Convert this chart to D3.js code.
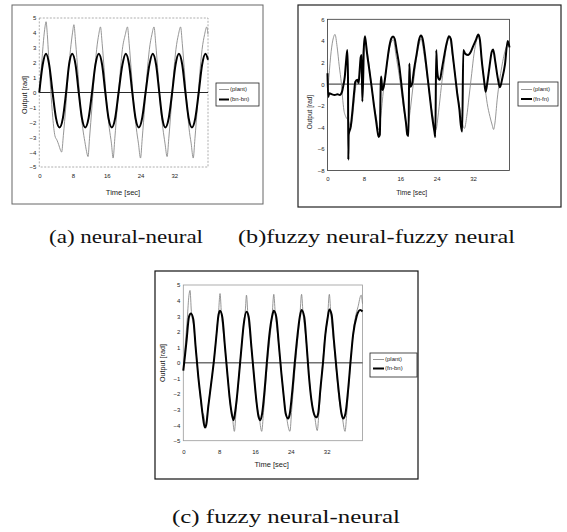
<!DOCTYPE html>
<html><head><meta charset="utf-8">
<script src="https://cdn.jsdelivr.net/npm/d3@7"></script>
<style>body{margin:0;background:#fff}</style>
</head><body>
<svg id="chart" width="567" height="532"></svg>
<script>
// ---------------- data ----------------
const timeTicks = [0, 8, 16, 24, 32];
const yTicksA = [5, 4, 3, 2, 1, 0, -1, -2, -3, -4, -5];
const yTicksB = [6, 4, 2, 0, -2, -4, -6, -8];
const yTicksC = [5, 4, 3, 2, 1, 0, -1, -2, -3, -4, -5];
const legendA = ["(plant)", "(bn-bn)"];
const legendB = ["(plant)", "(fn-fn)"];
const legendC = ["(plant)", "(fn-bn)"];
const captions = ["(a) neural-neural", "(b)fuzzy neural-fuzzy neural", "(c) fuzzy neural-neural"];
const axisTitles = ["Output [rad]", "Time [sec]"];

// (a) neural-neural : [time, output]
const plantA = [[0,0],[0.5,1.7],[1.0,3.5],[1.35,4.4],[1.6,4.75],[1.9,3.9],[2.2,2.5],[2.7,0.2],[3.2,-1.7],[3.7,-2.9],[4.2,-3.2],[4.6,-3.5],[5.0,-3.85],[5.3,-4.0],[5.7,-2.9],[6.3,-0.9],[6.8,1.1],[7.4,2.9],[7.9,4.05],[8.2,4.55],[8.6,3.4],[9.2,1.2],[9.7,-0.8],[10.3,-2.4],[10.8,-3.3],[11.2,-3.95],[11.55,-4.3],[11.9,-3.1],[12.5,-0.9],[13.0,1.0],[13.6,2.9],[14.1,3.9],[14.5,4.4],[14.9,3.3],[15.5,1.1],[16.0,-0.8],[16.6,-2.4],[17.1,-3.4],[17.5,-4.4],[17.9,-3.1],[18.5,-0.9],[19.1,1.1],[19.7,2.9],[20.4,3.9],[20.9,4.4],[21.3,3.3],[21.9,1.1],[22.4,-0.8],[23.0,-2.4],[23.5,-3.4],[24.0,-4.4],[24.4,-3.1],[25.0,-0.9],[25.5,1.1],[26.1,2.9],[26.7,3.9],[27.2,4.4],[27.6,3.3],[28.2,1.1],[28.7,-0.8],[29.3,-2.4],[29.8,-3.4],[30.3,-4.3],[30.7,-3.1],[31.3,-0.9],[31.8,1.1],[32.4,2.9],[33.0,3.9],[33.5,4.4],[33.9,3.3],[34.5,1.1],[35.0,-0.8],[35.5,-2.4],[36.0,-3.4],[36.5,-4.4],[36.9,-3.1],[37.5,-0.9],[38.0,1.1],[38.6,2.9],[39.2,3.9],[39.7,4.4],[40,3.9]];
const bnbnA = [[0,0],[0.8,1.85],[1.6,2.6],[2.35,1.85],[3.15,0],[3.95,-1.7],[4.8,-2.35],[5.6,-1.7],[6.35,0],[7.05,1.85],[7.8,2.6],[8.6,1.85],[9.35,0],[10.1,-1.7],[10.9,-2.35],[11.7,-1.7],[12.5,0],[13.3,1.85],[14.1,2.6],[14.9,1.85],[15.65,0],[16.4,-1.7],[17.2,-2.35],[18.0,-1.7],[18.8,0],[19.7,1.85],[20.5,2.6],[21.3,1.85],[22.05,0],[22.8,-1.7],[23.6,-2.35],[24.4,-1.7],[25.2,0],[26.1,1.85],[26.9,2.6],[27.7,1.85],[28.45,0],[29.15,-1.7],[29.9,-2.35],[30.7,-1.7],[31.5,0],[32.3,1.85],[33.1,2.6],[33.9,1.85],[34.65,0],[35.4,-1.7],[36.2,-2.35],[37.0,-1.7],[37.8,0],[38.6,1.85],[39.4,2.6],[40,2.2]];

// (b) fuzzy neural-fuzzy neural
const plantB = [[0,-1.2],[0.3,0.6],[0.8,3.0],[1.3,4.3],[1.65,4.6],[2.1,3.5],[2.6,1.6],[3.05,0.05],[3.3,-1.2],[3.6,-2.4],[4.0,-3.0],[4.6,-3.4],[5.1,-4.0],[5.45,-3.3],[5.8,-1.8],[6.25,-0.1],[6.7,0.4],[7.1,1.0],[7.6,2.2],[7.95,3.5],[8.3,4.0],[9.0,2.2],[9.7,-0.25],[10.3,-2.1],[10.8,-3.3],[11.25,-4.25],[11.7,-3.0],[12.3,-0.55],[12.9,1.3],[13.4,2.8],[14.0,3.9],[14.5,4.1],[15.0,2.8],[15.8,0.7],[16.5,-1.5],[17.0,-3.0],[17.5,-4.1],[18.0,-3.0],[18.7,-0.55],[19.4,1.9],[20.2,3.8],[20.55,4.2],[21.2,2.8],[21.9,0.7],[22.7,-1.8],[23.3,-3.3],[23.8,-4.25],[24.4,-2.6],[25.0,-0.3],[25.6,1.8],[26.2,3.6],[26.8,4.3],[27.5,2.5],[28.2,0.4],[28.8,-1.5],[29.4,-3.0],[29.85,-3.95],[30.1,-4.1],[30.6,-3.0],[31.1,-1.2],[31.7,1.0],[32.2,2.8],[32.8,4.1],[33.15,4.5],[33.5,3.8],[34.0,1.9],[34.6,-0.25],[35.1,-1.8],[35.7,-3.0],[36.2,-3.8],[36.5,-4.2],[36.8,-3.6],[37.3,-1.4],[38.3,1.6],[39.2,3.3],[40,3.8]];
const fnfnB = [[0,1.0],[0.15,-1.2],[0.4,-0.85],[1.0,-0.95],[1.6,-1.0],[2.2,-0.95],[2.7,-1.0],[3.2,-0.7],[3.5,-0.1],[3.8,0.7],[4.1,2.2],[4.36,3.15],[4.5,0.7],[4.58,-7.0],[4.65,-4.7],[5.1,-3.95],[5.5,-2.4],[5.9,-0.55],[6.1,0.2],[6.55,0.4],[6.85,0.1],[7.07,1.3],[7.3,2.5],[7.5,2.7],[7.65,-1.6],[7.85,0.7],[8.0,3.5],[8.24,4.44],[8.6,3.15],[9.2,1.3],[9.7,-0.25],[10.2,-1.95],[10.65,-3.3],[10.95,-4.25],[11.25,-4.9],[11.5,-4.7],[11.7,0.06],[11.8,0.7],[12.05,-0.55],[12.35,-0.25],[12.7,0.7],[13.15,2.2],[13.6,3.5],[14.0,4.2],[14.4,4.4],[14.76,4.2],[15.2,3.15],[15.8,1.6],[16.3,-0.25],[16.8,-2.1],[17.25,-3.6],[17.55,-4.7],[17.8,-4.8],[17.98,1.9],[18.2,-0.25],[18.6,0.06],[19.0,1.3],[19.6,2.8],[20.1,4.07],[20.55,4.5],[20.9,4.2],[21.4,2.8],[21.9,1.0],[22.5,-1.2],[23.0,-3.0],[23.5,-4.4],[23.7,-4.9],[23.9,3.15],[24.1,1.3],[24.4,0.5],[24.7,0.4],[25.1,1.3],[25.6,2.5],[26.2,3.8],[26.7,4.44],[27.1,4.2],[27.5,2.8],[28.0,1.0],[28.5,-0.85],[29.0,-2.4],[29.3,-3.8],[29.6,-4.4],[29.85,3.15],[30.3,2.8],[30.9,2.7],[31.5,3.0],[32.0,3.5],[32.6,4.07],[33.15,4.6],[33.5,4.1],[33.9,2.2],[34.4,0.4],[34.75,-0.7],[35.1,0.06],[35.6,1.6],[36.1,3.0],[36.4,3.2],[36.9,2.0],[37.4,0.6],[37.9,-0.3],[38.4,0.5],[39.0,1.8],[39.6,4.0],[40,3.4]];

// (c) fuzzy neural-neural
const plantC = [[0,-0.5],[0.4,1.0],[0.9,2.9],[1.25,4.3],[1.5,4.65],[1.8,3.3],[2.3,2.4],[2.8,0.9],[3.35,-0.9],[3.9,-2.5],[4.2,-3.1],[4.6,-3.4],[5.0,-4.2],[5.5,-2.9],[6.3,-1.1],[6.85,0.2],[7.45,2.0],[7.9,3.4],[8.2,4.45],[8.5,3.2],[9.3,1.0],[9.9,-0.9],[10.4,-2.5],[10.9,-3.3],[11.4,-4.4],[11.8,-3.0],[12.4,-0.9],[13.0,1.0],[13.5,2.6],[13.85,3.4],[14.1,4.35],[14.4,3.2],[15.2,1.0],[15.8,-0.9],[16.3,-2.5],[16.9,-3.4],[17.5,-4.4],[17.9,-3.2],[18.6,-0.6],[19.25,1.4],[19.8,2.9],[20.2,4.4],[20.5,3.3],[21.3,1.2],[21.9,-0.6],[22.5,-2.4],[23.0,-3.4],[23.8,-4.4],[24.2,-3.0],[24.9,-0.5],[25.5,1.4],[26.0,2.9],[26.4,4.4],[26.7,3.3],[27.5,1.2],[28.0,-0.6],[28.6,-2.4],[29.3,-3.4],[29.9,-4.35],[30.3,-3.1],[30.9,-0.8],[31.5,1.3],[32.2,2.9],[32.6,4.4],[32.9,3.3],[33.6,1.2],[34.2,-0.6],[34.8,-2.4],[35.4,-3.3],[36.1,-4.4],[36.5,-3.2],[37.1,-0.8],[37.7,1.3],[38.4,2.9],[39.0,3.6],[39.7,4.35],[40,3.8]];
const fnbnC = [[0,-0.5],[0.35,0.4],[0.74,1.46],[1.26,2.95],[1.71,3.17],[2.23,2.8],[2.75,1.03],[3.35,-0.9],[3.94,-2.4],[4.3,-3.3],[4.8,-4.15],[5.1,-4.0],[5.58,-2.8],[6.32,-1.1],[6.85,0.17],[7.44,1.9],[7.8,2.95],[8.18,3.34],[8.7,2.95],[9.3,1.03],[9.9,-0.9],[10.4,-2.4],[10.8,-3.25],[11.2,-3.68],[11.5,-3.3],[11.9,-2.4],[12.4,-0.9],[13.0,1.03],[13.5,2.5],[14.1,3.28],[14.6,2.95],[15.2,1.03],[15.8,-0.9],[16.3,-2.4],[16.8,-3.46],[17.2,-3.68],[17.6,-3.25],[18.1,-1.9],[18.7,0.2],[19.25,1.9],[19.8,2.95],[20.2,3.34],[20.75,2.95],[21.3,1.25],[21.9,-0.7],[22.5,-2.4],[22.85,-3.25],[23.4,-3.57],[23.75,-3.3],[24.3,-1.9],[24.9,0.06],[25.5,1.8],[26.0,2.95],[26.4,3.4],[27.0,2.95],[27.5,1.25],[28.0,-0.7],[28.6,-2.4],[29.2,-3.3],[29.7,-3.5],[30.1,-3.25],[30.6,-1.7],[31.2,0.06],[31.7,1.8],[32.2,2.85],[32.6,3.43],[33.1,3.1],[33.6,1.5],[34.2,-0.4],[34.8,-2.1],[35.3,-3.25],[35.7,-3.57],[36.2,-3.25],[36.8,-1.7],[37.4,0.3],[37.9,1.8],[38.7,3.0],[39.5,3.4],[40,3.3]];

// ---------------- drawing ----------------
const svg = d3.select("#chart");
const SANS = "'Liberation Sans', Arial, sans-serif";

function panel(p) {
  const g = svg.append("g");
  g.append("rect")
    .attr("x", p.frame[0]).attr("y", p.frame[1])
    .attr("width", p.frame[2] - p.frame[0]).attr("height", p.frame[3] - p.frame[1])
    .attr("fill", "none").attr("stroke", p.frameColor).attr("stroke-width", p.frameWidth);

  const x = d3.scaleLinear().domain([0, 40]).range([p.px[0], p.px[1]]);
  const y = d3.scaleLinear().domain(p.yDom).range([p.py[1], p.py[0]]);

  g.append("rect")
    .attr("x", x(0)).attr("y", y(p.yDom[1]))
    .attr("width", x(40) - x(0)).attr("height", y(p.yDom[0]) - y(p.yDom[1]))
    .attr("fill", "none").attr("stroke", p.plotStroke).attr("stroke-width", 0.8)
    .attr("stroke-dasharray", p.plotDash);

  const ya = g.append("g").attr("transform", `translate(${x(0)},0)`)
    .call(d3.axisLeft(y).tickValues(p.yTicks).tickSize(0).tickPadding(3).tickFormat(d3.format("d")));
  ya.select(".domain").remove();
  ya.selectAll("text").attr("font-family", SANS).attr("font-size", 6).style("fill", "#222");

  const xa = g.append("g").attr("transform", `translate(0,${y(p.yDom[0])})`)
    .call(d3.axisBottom(x).tickValues(timeTicks).tickSize(0).tickPadding(p.xPad).tickFormat(d3.format("d")));
  xa.select(".domain").remove();
  xa.selectAll("text").attr("font-family", SANS).attr("font-size", 6).style("fill", "#222");

  g.append("text").attr("transform", `translate(${p.yTitle[0]},${p.yTitle[1]}) rotate(-90)`)
    .attr("text-anchor", "middle").attr("dominant-baseline", "middle")
    .attr("font-family", SANS).attr("font-size", p.yTitleSize).attr("fill", "#222").text(axisTitles[0]);
  g.append("text").attr("x", p.xTitle[0]).attr("y", p.xTitle[1])
    .attr("text-anchor", "middle").attr("dominant-baseline", "middle")
    .attr("font-family", SANS).attr("font-size", p.xTitleSize).attr("fill", "#222").text(axisTitles[1]);

  g.append("line").attr("x1", x(0)).attr("x2", x(40)).attr("y1", y(0)).attr("y2", y(0))
    .attr("stroke", "#111").attr("stroke-width", 0.9);

  const line = d3.line().x(d => x(d[0])).y(d => y(d[1])).curve(d3.curveMonotoneX);
  g.append("path").datum(p.plant).attr("d", line).attr("fill", "none")
    .attr("stroke", "#8a8a8a").attr("stroke-width", 0.9);
  g.append("path").datum(p.model).attr("d", line).attr("fill", "none")
    .attr("stroke", "#000").attr("stroke-width", 2).attr("stroke-linejoin", "round");

  const L = p.legend;
  g.append("rect").attr("x", L.box[0]).attr("y", L.box[1])
    .attr("width", L.box[2] - L.box[0]).attr("height", L.box[3] - L.box[1])
    .attr("fill", "#fff").attr("stroke", "#222").attr("stroke-width", 0.8);
  L.labels.forEach((t, i) => {
    const yy = L.rows[i];
    g.append("line").attr("x1", L.box[0] + 3).attr("x2", L.box[0] + 3 + L.lineLen)
      .attr("y1", yy).attr("y2", yy)
      .attr("stroke", i === 0 ? "#8a8a8a" : "#000").attr("stroke-width", i === 0 ? 0.9 : 2);
    g.append("text").attr("x", L.box[0] + 4 + L.lineLen).attr("y", yy)
      .attr("dominant-baseline", "middle").attr("font-family", SANS).attr("font-size", 6)
      .attr("fill", "#222").text(t);
  });
}

panel({
  frame: [12, 5, 263, 204], frameColor: "#666", frameWidth: 1,
  px: [39.3, 208], py: [18, 167], yDom: [-5, 5], yTicks: yTicksA,
  plotStroke: "#999", plotDash: "2,1.5", xPad: 7,
  yTitle: [25, 95], yTitleSize: 7.2, xTitle: [123, 193], xTitleSize: 7.5,
  plant: plantA, model: bnbnA,
  legend: { box: [216, 83, 259, 106], rows: [89.5, 99.5], lineLen: 10, labels: legendA }
});
panel({
  frame: [298, 5, 561, 207], frameColor: "#222", frameWidth: 1.2,
  px: [327.5, 509.5], py: [19.3, 170.5], yDom: [-8, 6], yTicks: yTicksB,
  plotStroke: "#333", plotDash: null, xPad: 6,
  yTitle: [310, 112], yTitleSize: 6.5, xTitle: [411.7, 193], xTitleSize: 6.8,
  plant: plantB, model: fnfnB,
  legend: { box: [518, 82, 558, 106], rows: [89.5, 99], lineLen: 11, labels: legendB }
});
panel({
  frame: [155, 271, 418, 479], frameColor: "#111", frameWidth: 1.2,
  px: [183.3, 362.5], py: [285, 440.7], yDom: [-5, 5], yTicks: yTicksC,
  plotStroke: "#999", plotDash: null, xPad: 9,
  yTitle: [163.3, 363], yTitleSize: 7.2, xTitle: [271.7, 465], xTitleSize: 7.5,
  plant: plantC, model: fnbnC,
  legend: { box: [370, 353, 417, 377], rows: [359.5, 368.5], lineLen: 11, labels: legendC }
});

const SERIF = "'Liberation Serif', 'DejaVu Serif', serif";
[[captions[0], 49, 243, 154], [captions[1], 238, 243, 277], [captions[2], 172, 523, 228]].forEach(c => {
  svg.append("text").attr("x", c[1]).attr("y", c[2])
    .attr("font-family", SERIF).attr("font-size", 18).attr("fill", "#111")
    .attr("textLength", c[3]).attr("lengthAdjust", "spacingAndGlyphs").text(c[0]);
});
</script>
</body></html>
